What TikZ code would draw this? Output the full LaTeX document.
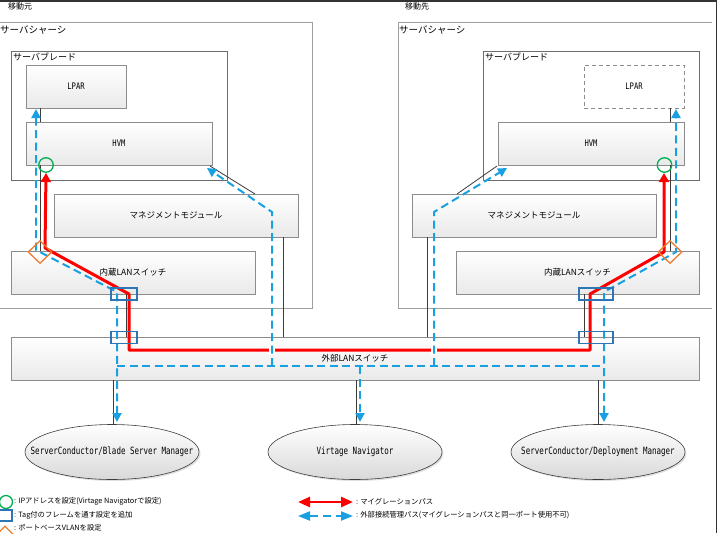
\documentclass[tikz,border=0pt]{standalone}
\usepackage{fontspec}
\setmainfont{Noto Sans CJK JP}
\newfontfamily\monof{DejaVu Sans Mono}
\usetikzlibrary{arrows.meta,shadows,shapes.geometric}
\definecolor{mblue}{RGB}{25,160,225}
\definecolor{sqblue}{RGB}{46,117,182}
\definecolor{morange}{RGB}{237,125,49}
\definecolor{mgreen}{RGB}{0,176,80}
\definecolor{boxgray}{RGB}{140,140,140}
\definecolor{linegray}{RGB}{60,60,60}
\newcommand{\mlab}[1]{\scalebox{0.8}[1]{\monof\fontsize{9}{10}\selectfont #1}}
\newcommand{\elab}[1]{\scalebox{0.75}[1]{\monof\fontsize{10}{12}\selectfont #1}}
\tikzset{
  box/.style={draw=boxgray, line width=0.7pt, top color=white, bottom color=gray!17,
    inner sep=0pt, font=\fontsize{8.5}{10}\selectfont,
    drop shadow={shadow xshift=1.2pt, shadow yshift=-1.2pt, opacity=0.25}},
  dbox/.style={draw=boxgray, line width=0.7pt, dash pattern=on 4pt off 3pt, fill=white, inner sep=0pt},
  frame/.style={draw=gray!75, line width=0.7pt},
  bframe/.style={draw=gray!85!black, line width=0.7pt, fill=white},
  ell/.style={ellipse, draw=linegray, line width=0.6pt, top color=white, bottom color=gray!30,
    minimum width=174pt, minimum height=55pt, inner sep=0pt,
    drop shadow={shadow xshift=1.5pt, shadow yshift=-1.5pt, opacity=0.25}},
  conn/.style={draw=linegray, line width=0.8pt},
  redp/.style={draw=red, line width=3pt, line join=round},
  bluep/.style={draw=mblue, line width=2pt, dash pattern=on 8pt off 4.5pt},
  rtip/.tip={Triangle[length=9pt,width=10pt]},
  btip/.tip={Triangle[length=9pt,width=9pt]},
  sq/.style={draw=sqblue, line width=1.2pt, inner sep=0pt, minimum height=12pt},
  dia/.style={diamond, draw=morange, line width=1.3pt, inner sep=0pt, minimum width=24pt, minimum height=23pt},
  circ/.style={circle, draw=mgreen, line width=1.3pt, inner sep=0pt, minimum size=14.5pt},
  lab/.style={anchor=west, inner sep=0pt},
  leg/.style={anchor=west, inner sep=0pt, font=\fontsize{7.3}{9}\selectfont}
}
\begin{document}
\begin{tikzpicture}[x=1pt,y=-1pt]
\useasboundingbox (0,0) rectangle (719,533);
% chassis
\draw[frame] (312,22) -- (-2,22) (312,22) -- (312,308) -- (-2,308);
\draw[frame] (712,22) -- (398,22) -- (398,308) -- (712,308);
\node[lab, font=\fontsize{8}{9}\selectfont] (srcL) at (8,6) {移動元};
\node[lab, font=\fontsize{8}{9}\selectfont] (dstL) at (405,6) {移動先};
\node[lab, font=\fontsize{9.5}{10}\selectfont] (chL) at (0,30) {サーバシャーシ};
\node[lab, font=\fontsize{9.5}{10}\selectfont] (chR) at (399,30) {サーバシャーシ};
% blades
\draw[bframe] (11,51) rectangle (227,180);
\draw[bframe] (483,51) rectangle (699,180);
\node[lab, font=\fontsize{9}{10}\selectfont] (blL) at (13,57) {サーバブレード};
\node[lab, font=\fontsize{9}{10}\selectfont] (blR) at (485,57) {サーバブレード};
% left boxes
\node[box, minimum width=100pt, minimum height=43pt] (lparL) at (76,86.5) {\mlab{LPAR}};
\node[box, minimum width=186pt, minimum height=43pt] (hvmL) at (119,143.5) {\mlab{HVM}};
\node[box, minimum width=244pt, minimum height=43pt] (mgmtL) at (176,215.5) {マネジメントモジュール};
\node[box, minimum width=244pt, minimum height=43pt] (lanL) at (133,272.5) {内蔵LANスイッチ};
% right boxes
\node[dbox, minimum width=100pt, minimum height=43pt] (lparR) at (634,86.5) {\mlab{LPAR}};
\node[box, minimum width=186pt, minimum height=43pt] (hvmR) at (591,143.5) {\mlab{HVM}};
\node[box, minimum width=244pt, minimum height=43pt] (mgmtR) at (534,215.5) {マネジメントモジュール};
\node[box, minimum width=243pt, minimum height=43pt] (lanR) at (577.5,272.5) {内蔵LANスイッチ};
% external switch
\node[box, minimum width=688pt, minimum height=43pt] (ext) at (355,358.5) {};
% ellipses
\node[ell] (ellL) at (112,452) {};
\node[ell] (ellM) at (355,452) {};
\node[ell] (ellR) at (598,452) {};
\node[inner sep=0pt] (ellLt) at (ellL.center) {\elab{ServerConductor/Blade Server Manager}};
\node[inner sep=0pt] (ellMt) at (ellM.center) {\elab{Virtage Navigator}};
\node[inner sep=0pt] (ellRt) at (ellR.center) {\elab{ServerConductor/Deployment Manager}};
% physical connections
\draw[conn] (40,108) -- (40,122);
\draw[conn] (40,165) -- (40,251);
\draw[conn] (210,166) -- (255,194);
\draw[conn] (283,237) -- (283,337);
\draw[conn] (126,294) -- (126,337);
\draw[conn] (113,380) -- (113,425);
\draw[conn] (356,380) -- (356,425);
\draw[conn] (598,380) -- (598,425);
\draw[conn] (670,108) -- (670,122);
\draw[conn] (670,165) -- (670,251);
\draw[conn] (497,166) -- (457,194);
\draw[conn] (427,237) -- (427,337);
\draw[conn] (584,294) -- (584,337);
% migration path
\draw[redp, rtip-rtip] (46,173) -- (45,248) -- (129,294) -- (129,350) -- (590,350) -- (590,294) -- (664,252) -- (664,173);
\draw[white, line width=6pt] (272,345) -- (272,355);
\draw[white, line width=6pt] (434,345) -- (434,355);
% management paths
\draw[bluep, btip-btip] (36,109) -- (36,250) -- (117,292) -- (117,422);
\draw[bluep] (117,366) -- (604,366);
\draw[bluep, btip-btip] (604,422) -- (604,292) -- (676,252) -- (676,109);
\draw[bluep, -btip] (272,366) -- (272,212) -- (207,168);
\draw[bluep, -btip] (434,366) -- (434,212) -- (507,168);
\draw[bluep, -btip] (360,366) -- (360,422);
\node[font=\fontsize{8.5}{10}\selectfont, inner sep=0pt] (extlab) at (355,358) {外部LANスイッチ};
% markers
\node[sq, minimum width=26pt] (sqL1) at (124,294) {};
\node[sq, minimum width=26pt] (sqL2) at (124,337.5) {};
\node[sq, minimum width=34pt] (sqR1) at (596,294) {};
\node[sq, minimum width=34pt] (sqR2) at (596,337.5) {};
\node[dia] (diaL) at (40,252) {};
\node[dia] (diaR) at (670,252) {};
\node[circ] (cirL) at (46,165) {};
\node[circ] (cirR) at (664.5,165) {};
% legend
\node[circ, minimum size=13pt] (lgc) at (6,502) {};
\node[sq, minimum width=13pt, minimum height=11pt] (lgs) at (5.5,515.5) {};
\node[dia, minimum width=18pt, minimum height=18pt] (lgd) at (5,535) {};
\node[leg] (lgct) at (14,501.5) {: IPアドレスを設定(Virtage Navigatorで設定)};
\node[leg] (lgst) at (14,515) {: Tag付のフレームを通す設定を追加};
\node[leg] (lgdt) at (14,527.5) {: ポートベースVLANを設定};
\coordinate (lra) at (298,502);
\coordinate (lrb) at (353,502);
\coordinate (lba) at (298,516);
\coordinate (lbb) at (353,516);
\draw[draw=red, line width=2.5pt, {Triangle[length=12pt,width=10pt]}-{Triangle[length=12pt,width=10pt]}] (lra) -- (lrb);
\draw[draw=mblue, line width=2pt, dash pattern=on 8pt off 5pt, {Triangle[length=12pt,width=9pt]}-{Triangle[length=12pt,width=9pt]}] (lba) -- (lbb);
\node[leg] (lgrt) at (356,501.5) {: マイグレーションパス};
\node[leg] (lgbt) at (356,515.5) {: 外部接続管理パス(マイグレーションパスと同一ポート使用不可)};
% frame
\draw[line width=1.6pt, black!80] (0,0.8) -- (716.5,0.8) -- (716.5,533);
\end{tikzpicture}
\end{document}
